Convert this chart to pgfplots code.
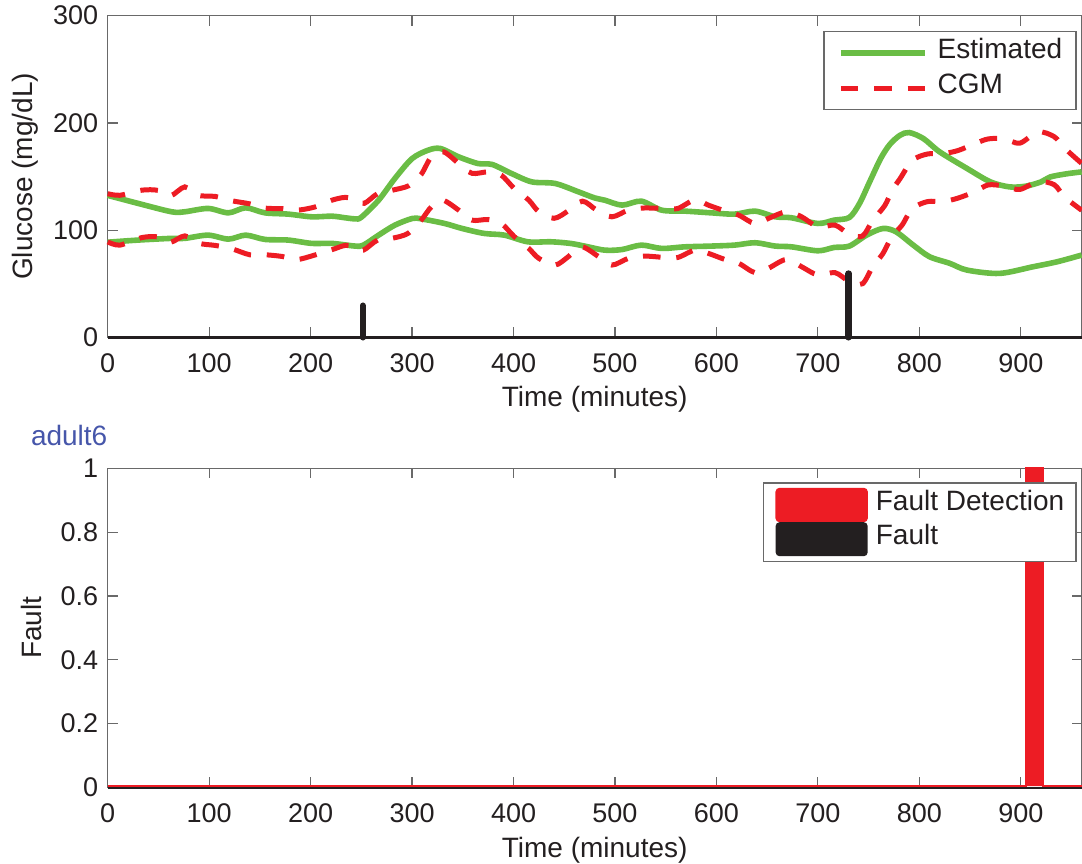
\documentclass[border=0pt]{standalone}
\usepackage{pgfplots}
\usepackage{pgfplotstable}
\pgfplotsset{compat=1.18}
\usepackage{fontspec}
\setmainfont{Liberation Sans}
\definecolor{mgreen}{RGB}{106,189,69}
\definecolor{mred}{RGB}{237,28,36}
\definecolor{mblack}{RGB}{35,31,32}
\definecolor{mblue}{RGB}{70,86,170}
\definecolor{mgray}{RGB}{105,105,105}

\pgfplotstableread{
x y
0 132.4
30 124.9
63 117.1
76 117.1
99 120.2
119 116.1
136 120.8
155 116.1
178 114.9
201 112.4
221 113
234 111.5
244 110.5
250 112
267 127.9
283 148.1
300 166.7
316 174.6
328 176.1
346 168.3
365 162.1
379 161.2
398 152.8
418 145
441 143.5
464 135.7
480 130
490 127.9
507 123.3
526 127
546 118.6
569 117.7
595 116.1
618 114.9
638 117.7
658 112.4
674 111.5
700 106.2
716 109.3
731 111.8
741 124.8
751 145
762 167
771 180
781 188.5
790 191
804 185.4
820 173
847 157.5
870 145
889 140.3
905 141
920 145
929 149.6
945 152.5
960 154.3
}\upgreen

\pgfplotstableread{
x y
0 88.7
30 90.7
63 92.3
76 92.3
99 95.3
119 91.6
136 95.3
155 91.3
178 90.7
201 87.6
221 87.6
244 85.1
252 86
267 95.3
283 104.6
300 110.8
309 110.5
332 106.2
349 101.6
371 96.9
391 95.3
414 89.1
437 89.1
456 87.6
470 85.1
490 81.3
507 81.9
526 86
546 82.9
569 84.4
595 85.1
618 86
638 88.2
658 85.1
674 84.4
700 80.7
716 83.8
731 85.1
748 95.3
764 101.5
777 98.4
794 86
810 75.2
830 69
847 62.7
879 59.6
912 65.8
936 70.5
960 76.7
}\lowgreen

\pgfplotstableread{
x y
0 134
12 132.5
34 137.3
50 137
62 132
76 140.3
88 132.5
106 131.4
122 127.4
140 124.5
155 120.5
172 120
186 118.5
204 121.5
221 127.9
234 130.5
245 128.5
253 125
266 134
280 137.1
297 141.5
309 152
319 168.3
331 173
346 162.1
359 153
375 154.3
388 151.2
401 138.5
415 128
425 117.1
440 111
454 118
468 127
482 118.6
497 112.4
513 118.6
528 120.6
549 120.2
562 120.2
579 128.3
592 123.3
608 118
622 114
638 106
651 110.8
669 117.1
684 112.4
700 103
717 104.6
731 96
744 94.5
754 109
766 123
773 137
781 148
793 165
808 171
824 171.5
838 174.2
855 180.7
868 185.1
884 185.1
899 181.1
917 191.6
933 187.1
943 176.6
960 162.2
}\upred

\pgfplotstableread{
x y
0 89
12 86
34 93.1
50 93.6
62 88.7
76 94.6
90 87.7
106 85.7
122 82.7
140 77
155 77
172 75.4
186 72.4
204 76.7
221 81.7
234 85.7
245 84.7
252 81.3
266 90.7
280 92.3
296 96.9
309 109.3
319 121.7
330 128
346 118.6
359 109.3
375 109.9
388 106.2
401 93.7
415 82.9
425 73.6
441 67.4
454 75.2
467 84.5
484 75.2
497 67.4
513 73.6
528 75.8
549 74.5
562 74.5
579 81.4
592 78.3
608 72.7
622 69
638 60.3
651 64.3
669 72.7
684 65.8
700 58.1
717 60.3
731 52
744 50
754 66
764 78
773 94
783 104.7
793 120
808 126.6
823 126.6
838 129.8
855 136
868 142.2
884 141
899 137.9
917 145.3
933 142.3
943 131
960 118.5
}\lowred

\begin{document}
\begin{tikzpicture}
\pgfplotsset{
  mstyle/.style={
    scale only axis, anchor=north west,
    width=487pt,
    xmin=0, xmax=960, xtick={0,100,...,900},
    axis line style={mgray, line width=0.7pt},
    major tick style={mgray, line width=0.6pt},
    major tick length=5pt,
    tick align=inside,
    ticklabel style={font=\fontsize{13.5}{15}\selectfont, text=mblack},
    /pgf/number format/assume math mode=true,
    xticklabel style={anchor=base, yshift=-17.6pt},
    yticklabel style={anchor=east, inner sep=0pt, xshift=-4.6pt},
    label style={font=\fontsize{14}{16}\selectfont, text=mblack},
    clip=false,
    legend cell align=left,
  },
}
% ---------- top axis ----------
\begin{axis}[mstyle,
  at={(53.85pt,-7.85pt)},
  height=160.8pt,
  ymin=0, ymax=300, ytick={0,100,200,300},
  xlabel={Time (minutes)},
  xlabel style={at={(axis description cs:0.5,-0.2146)}, anchor=base},
  ylabel={Glucose (mg/dL)},
  ylabel style={at={(axis description cs:-0.0767,0.5)}, anchor=base},
  legend image code/.code={\draw[#1] (0pt,0pt) -- (42pt,0pt);},
  legend style={at={(axis description cs:1,1)}, anchor=north east,
    xshift=-2.4pt, yshift=-7.6pt, draw=mgray, line width=0.7pt,
    font=\fontsize{14}{16}\selectfont, text=mblack,
    inner xsep=7pt, inner ysep=2pt, row sep=0pt,
    nodes={inner sep=0pt, text height=11.5pt, text depth=6pt},
    /tikz/every odd column/.append style={column sep=5pt}},
]
\addplot[mgreen, line width=2.8pt, smooth, tension=0.5] table {\upgreen};
\addlegendentry{Estimated}
\addplot[mgreen, line width=2.8pt, smooth, tension=0.5, forget plot] table {\lowgreen};
\addplot[mred, line width=2.5pt, smooth, tension=0.5, dash pattern=on 8.8pt off 7.9pt] table {\upred};
\addlegendentry{CGM}
\addplot[mred, line width=2.5pt, smooth, tension=0.5, dash pattern=on 8.8pt off 7.9pt, forget plot] table {\lowred};
\addplot[mblack, line width=1.7pt, forget plot] coordinates {(0,0) (960,0)};
\addplot[mblack, line width=3.2pt, line cap=round, forget plot] coordinates {(251.5,0) (251.5,29.5)};
\addplot[mblack, line width=3.2pt, line cap=round, forget plot] coordinates {(730.3,0) (730.3,59.5)};
\end{axis}
% ---------- bottom axis ----------
\begin{axis}[mstyle,
  at={(53.85pt,-234.15pt)},
  height=159.5pt,
  ymin=0, ymax=1, ytick={0,0.2,...,1},
  yticklabel style={/pgf/number format/fixed, /pgf/number format/precision=1},
  title={adult6},
  title style={at={(axis description cs:0,1)}, anchor=base east, inner sep=0pt,
    yshift=5.6pt, font=\fontsize{14}{16}\selectfont, text=mblue},
  xlabel={Time (minutes)},
  xlabel style={at={(axis description cs:0.5,-0.2213)}, anchor=base},
  ylabel={Fault},
  ylabel style={at={(axis description cs:-0.0678,0.5)}, anchor=base},
  legend image code/.code={\fill[#1, rounded corners=1.5pt] (0pt,-8pt) rectangle (45pt,8pt);},
  legend style={at={(axis description cs:1,1)}, anchor=north east,
    xshift=-2.4pt, yshift=-6.9pt, draw=mgray, line width=0.7pt,
    font=\fontsize{14}{16}\selectfont, text=mblack,
    inner xsep=6pt, inner ysep=2.5pt, row sep=0pt,
    nodes={inner sep=0pt, text height=11.2pt, text depth=5.8pt},
    /tikz/every odd column/.append style={column sep=4pt}},
]
\addplot[mred, fill=mred, line width=1.2pt] coordinates {(0,0.004) (905,0.004) (905,1) (922,1) (922,0.004) (960,0.004)};
\addlegendentry{Fault Detection}
\addplot[mblack, fill=mblack, line width=1pt] coordinates {(0,-0.002) (960,-0.002)};
\addlegendentry{Fault}
\end{axis}
\pgfresetboundingbox
\useasboundingbox (0pt,0pt) rectangle (541pt,-431.5pt);
\end{tikzpicture}
\end{document}
